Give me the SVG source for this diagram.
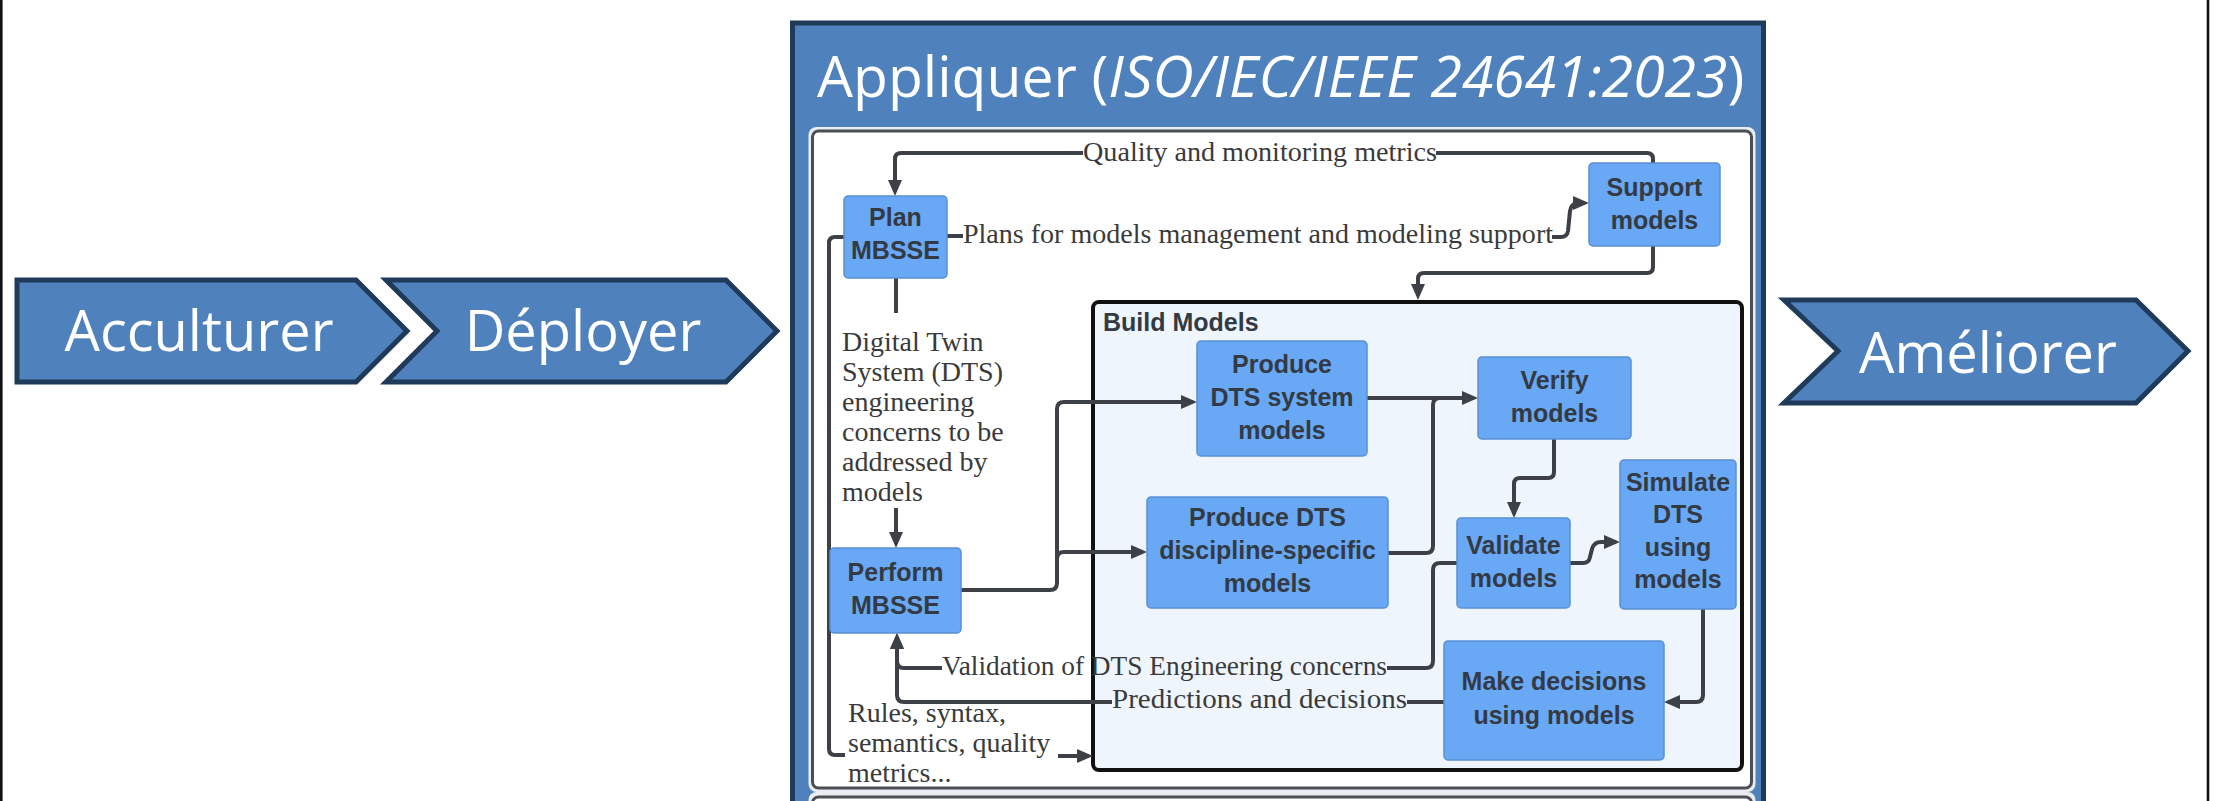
<svg xmlns="http://www.w3.org/2000/svg" width="2239" height="801" viewBox="0 0 2239 801">
<defs>
<style>
.chev{fill:#4f81bd;stroke:#203a5a;stroke-width:5;stroke-linejoin:miter}
.chevtxt{font-family:"Open Sans","Liberation Sans",sans-serif;font-size:56px;fill:#ffffff;text-anchor:middle}
.title{font-family:"Open Sans","Liberation Sans",sans-serif;font-size:57px;fill:#ffffff}
.node rect{fill:#69a8f5;stroke:#5a8fd3;stroke-width:1.5}
.ntxt{font-family:"Liberation Sans",Arial,sans-serif;font-weight:bold;font-size:25px;fill:#333a44;text-anchor:middle}
.lbl{font-family:"Liberation Serif","Times New Roman",serif;font-size:28px;fill:#3a3a3a}
.conn{fill:none;stroke:#3d4047;stroke-width:4;stroke-linejoin:round}
</style>
<marker id="ah" markerUnits="userSpaceOnUse" markerWidth="16" markerHeight="14" refX="12" refY="7" orient="auto">
<path d="M0,0 L16,7 L0,14 Z" fill="#3d4047"/>
</marker>
</defs>
<rect x="0" y="0" width="2239" height="801" fill="#ffffff"/>
<line x1="1.3" y1="0" x2="1.3" y2="801" stroke="#111" stroke-width="2.6"/>
<line x1="2208" y1="0" x2="2208" y2="801" stroke="#111" stroke-width="2.6"/>

<g id="acculturer">
<path class="chev" d="M17,280 H356 L407,331 L356,382 H17 Z"/>
<text class="chevtxt" x="199" y="351">Acculturer</text>
</g>
<g id="deployer">
<path class="chev" d="M386,280 H726 L777,331 L726,382 H386 L437,331 Z"/>
<text class="chevtxt" x="583" y="351">Déployer</text>
</g>
<g id="ameliorer">
<path class="chev" d="M1784,300 H2136 L2188,351 L2136,403 H1784 L1838,351 Z"/>
<text class="chevtxt" x="1988" y="373">Améliorer</text>
</g>

<g id="appliquer">
<rect x="792.5" y="23" width="971" height="840" fill="#4f81bd" stroke="#203a5a" stroke-width="5"/>
<text class="title" x="817" y="97">Appliquer (<tspan font-style="italic">ISO/IEC/IEEE 24641:2023</tspan>)</text>
<rect x="808.5" y="127" width="947" height="665" rx="8" fill="#e9edf1"/>
<rect x="812.5" y="131" width="939" height="657" rx="6" fill="#ffffff" stroke="#4b4f55" stroke-width="3"/>
<rect x="808.5" y="792" width="947" height="60" rx="8" fill="#e9edf1"/>
<rect x="812.5" y="797" width="939" height="60" rx="6" fill="#ffffff" stroke="#4b4f55" stroke-width="3"/>
</g>

<g id="build-models">
<rect x="1093" y="302" width="649" height="468" rx="6" fill="#eef5fd" stroke="#111111" stroke-width="4"/>
<text class="ntxt" x="1103" y="331" style="text-anchor:start">Build Models</text>
</g>

<g id="connectors">
<path class="conn" d="M1653,163 V159 Q1653,153 1647,153 H1436"/>
<path class="conn" marker-end="url(#ah)" d="M1083,153 H901 Q895,153 895,159 V192"/>
<text class="lbl" x="1083" y="161" textLength="354" lengthAdjust="spacingAndGlyphs">Quality and monitoring metrics</text>

<path class="conn" d="M947,236 H963"/>
<path class="conn" marker-end="url(#ah)" d="M1552,237 H1561 Q1567,237 1568,231 L1570,211 Q1571,203 1579,203 H1585"/>
<text class="lbl" x="963" y="243" textLength="590" lengthAdjust="spacingAndGlyphs">Plans for models management and modeling support</text>

<path class="conn" marker-end="url(#ah)" d="M1653,246 V267 Q1653,273 1647,273 H1424 Q1418,273 1418,279 V296"/>

<path class="conn" d="M896,278 V313"/>
<path class="conn" marker-end="url(#ah)" d="M896,508 V544"/>
<text class="lbl" x="842" y="351">Digital Twin</text>
<text class="lbl" x="842" y="381">System (DTS)</text>
<text class="lbl" x="842" y="411">engineering</text>
<text class="lbl" x="842" y="441">concerns to be</text>
<text class="lbl" x="842" y="471">addressed by</text>
<text class="lbl" x="842" y="501">models</text>

<path class="conn" d="M844,237 H835 Q829,237 829,243 V749 Q829,755 835,755 H845"/>
<path class="conn" marker-end="url(#ah)" d="M1058,756 H1089"/>
<text class="lbl" x="848" y="722">Rules, syntax,</text>
<text class="lbl" x="848" y="752">semantics, quality</text>
<text class="lbl" x="848" y="782">metrics...</text>

<path class="conn" marker-end="url(#ah)" d="M961,590 H1050 Q1057,590 1057,583 V409 Q1057,402 1064,402 H1193"/>
<path class="conn" marker-end="url(#ah)" d="M1057,559 Q1057,552 1064,552 H1143"/>

<path class="conn" marker-end="url(#ah)" d="M1367,398 H1474"/>
<path class="conn" d="M1388,553 H1426 Q1433,553 1433,546 V405 Q1433,398 1440,398 H1450"/>

<path class="conn" marker-end="url(#ah)" d="M1554,439 V472 Q1554,478 1548,478 H1520 Q1514,478 1514,484 V514"/>

<path class="conn" marker-end="url(#ah)" d="M1570,563 H1583 Q1589,563 1590,557 L1592,549 Q1594,542 1601,542 H1616"/>

<path class="conn" marker-end="url(#ah)" d="M1703,609 V695 Q1703,702 1696,702 H1668"/>

<path class="conn" d="M1457,563 H1440 Q1433,563 1433,570 V661 Q1433,668 1426,668 H1387"/>
<path class="conn" marker-end="url(#ah)" d="M942,668 H904 Q897,668 897,661 V637"/>
<text class="lbl" x="942" y="675" textLength="445" lengthAdjust="spacingAndGlyphs">Validation of DTS Engineering concerns</text>

<path class="conn" d="M1444,702 H1407"/>
<path class="conn" marker-end="url(#ah)" d="M1112,702 H904 Q897,702 897,695 V637"/>
<text class="lbl" x="1112" y="708" textLength="295" lengthAdjust="spacingAndGlyphs">Predictions and decisions</text>
</g>

<g id="plan-mbsse" class="node">
<rect x="844" y="196" width="103" height="82" rx="4"/>
<text class="ntxt" x="895.5" y="226">Plan</text>
<text class="ntxt" x="895.5" y="259">MBSSE</text>
</g>
<g id="support-models" class="node">
<rect x="1589" y="163" width="131" height="83" rx="4"/>
<text class="ntxt" x="1654.5" y="196">Support</text>
<text class="ntxt" x="1654.5" y="229">models</text>
</g>
<g id="perform-mbsse" class="node">
<rect x="830" y="548" width="131" height="85" rx="4"/>
<text class="ntxt" x="895.5" y="581">Perform</text>
<text class="ntxt" x="895.5" y="614">MBSSE</text>
</g>
<g id="produce-system" class="node">
<rect x="1197" y="341" width="170" height="115" rx="4"/>
<text class="ntxt" x="1282" y="373">Produce</text>
<text class="ntxt" x="1282" y="406">DTS system</text>
<text class="ntxt" x="1282" y="439">models</text>
</g>
<g id="produce-discipline" class="node">
<rect x="1147" y="497" width="241" height="111" rx="4"/>
<text class="ntxt" x="1267.5" y="526">Produce DTS</text>
<text class="ntxt" x="1267.5" y="559">discipline-specific</text>
<text class="ntxt" x="1267.5" y="592">models</text>
</g>
<g id="verify-models" class="node">
<rect x="1478" y="357" width="153" height="82" rx="4"/>
<text class="ntxt" x="1554.5" y="389">Verify</text>
<text class="ntxt" x="1554.5" y="422">models</text>
</g>
<g id="validate-models" class="node">
<rect x="1457" y="518" width="113" height="90" rx="4"/>
<text class="ntxt" x="1513.5" y="554">Validate</text>
<text class="ntxt" x="1513.5" y="587">models</text>
</g>
<g id="simulate-dts" class="node">
<rect x="1620" y="460" width="116" height="149" rx="4"/>
<text class="ntxt" x="1678" y="491">Simulate</text>
<text class="ntxt" x="1678" y="523">DTS</text>
<text class="ntxt" x="1678" y="556">using</text>
<text class="ntxt" x="1678" y="588">models</text>
</g>
<g id="make-decisions" class="node">
<rect x="1444" y="641" width="220" height="119" rx="4"/>
<text class="ntxt" x="1554" y="690">Make decisions</text>
<text class="ntxt" x="1554" y="724">using models</text>
</g>
</svg>
